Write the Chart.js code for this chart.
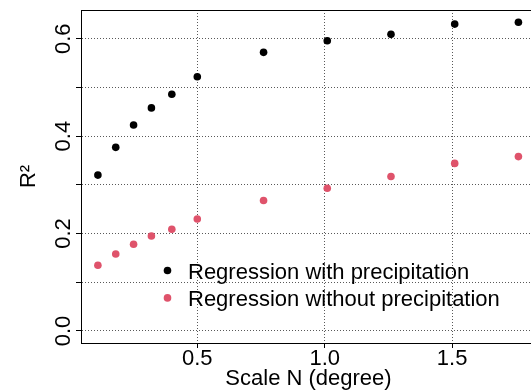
<!DOCTYPE html>
<html>
<head>
<meta charset="utf-8">
<script src="https://cdn.jsdelivr.net/npm/chart.js@4"></script>
<style>
	html, body { margin: 0; padding: 0; overflow: hidden; background: #fff; }
	#chart { display: block; }
</style>
</head>
<body>
<canvas id="chart" width="540" height="391"></canvas>
<script>
// scale N in degrees and the R^2 of each regression
const scaleN = [0.11, 0.18, 0.25, 0.32, 0.40, 0.50, 0.76, 1.01, 1.26, 1.51, 1.76];
const withPrecip = [0.320, 0.377, 0.423, 0.458, 0.486, 0.522, 0.572, 0.596, 0.609, 0.630, 0.634];
const withoutPrecip = [0.135, 0.158, 0.178, 0.195, 0.209, 0.230, 0.268, 0.293, 0.317, 0.344, 0.358];
const seriesNames = ['Regression with precipitation', 'Regression without precipitation'];

const xTicks = [0.5, 1.0, 1.5];
const yTicks = [0.0, 0.1, 0.2, 0.3, 0.4, 0.5, 0.6];
const yLabels = ['0.0', '0.2', '0.4', '0.6'];

const FONT = '"Liberation Sans", Arial, Helvetica, sans-serif';
const RED = '#DF536B';

const toPoints = (ys) => scaleN.map((x, i) => ({x: x, y: ys[i]}));

// frame, rotated y labels, axis titles and the legend
const decorations = {
	id: 'decorations',
	afterDraw(chart) {
		const {ctx, chartArea} = chart;
		const yScale = chart.scales.y;
		ctx.save();
		ctx.strokeStyle = '#000';
		ctx.lineWidth = 1;
		ctx.beginPath();
		ctx.moveTo(chartArea.left, chartArea.top + 0.5);
		ctx.lineTo(chartArea.right, chartArea.top + 0.5);
		ctx.moveTo(chartArea.right - 0.5, chartArea.top);
		ctx.lineTo(chartArea.right - 0.5, chartArea.bottom);
		ctx.stroke();

		ctx.fillStyle = '#000';
		ctx.font = '22px ' + FONT;
		yLabels.forEach((lbl) => {
			const py = yScale.getPixelForValue(parseFloat(lbl));
			ctx.save();
			ctx.translate(70, py);
			ctx.rotate(-Math.PI / 2);
			ctx.textAlign = 'center';
			ctx.textBaseline = 'alphabetic';
			ctx.fillText(lbl, 0, 0);
			ctx.restore();
		});

		// y title
		ctx.save();
		ctx.translate(35, (chartArea.top + chartArea.bottom) / 2);
		ctx.rotate(-Math.PI / 2);
		ctx.textAlign = 'center';
		ctx.textBaseline = 'alphabetic';
		ctx.fillText('R\u00B2', 0, 0);
		ctx.restore();

		// x title
		ctx.textAlign = 'center';
		ctx.textBaseline = 'alphabetic';
		ctx.fillText('Scale N (degree)', (chartArea.left + chartArea.right) / 2, 385);

		// legend
		ctx.textAlign = 'left';
		chart.data.datasets.forEach((ds, i) => {
			const ly = 270.5 + i * 27.4;
			ctx.fillStyle = ds.backgroundColor;
			ctx.beginPath();
			ctx.arc(167.5, ly, 3.8, 0, Math.PI * 2);
			ctx.fill();
			ctx.fillStyle = '#000';
			ctx.fillText(ds.label, 188, ly + 8.5);
		});
		ctx.restore();
	}
};

const gridStyle = {
	color: 'rgba(0, 0, 0, 0.65)',
	lineWidth: 1,
	drawTicks: true,
	tickLength: 5,
	tickColor: '#000',
	tickWidth: 1
};

new Chart(document.getElementById('chart').getContext('2d'), {
	type: 'scatter',
	data: {
		datasets: [{
			label: seriesNames[0],
			data: toPoints(withPrecip),
			backgroundColor: '#000',
			borderColor: '#000',
			pointRadius: 3.8,
			borderWidth: 0
		},
		{
			label: seriesNames[1],
			data: toPoints(withoutPrecip),
			backgroundColor: RED,
			borderColor: RED,
			pointRadius: 3.8,
			borderWidth: 0
		}]
	},
	options: {
		responsive: false,
		devicePixelRatio: 1,
		animation: false,
		layout: {padding: {top: 10, right: 1, left: 0, bottom: 0}},
		plugins: {
			legend: {display: false},
			tooltip: {enabled: false}
		},
		scales: {
			x: {
				type: 'linear',
				min: 0.0437,
				max: 1.829,
				afterBuildTicks: (scale) => { scale.ticks = xTicks.map(v => ({value: v})); },
				afterFit: (scale) => { scale.height = 48; },
				grid: gridStyle,
				border: {display: true, color: '#000', width: 1, dash: [1, 2]},
				ticks: {
					color: '#000',
					font: {family: FONT, size: 22},
					padding: -2,
					maxRotation: 0,
					callback: (v) => v.toFixed(1)
				}
			},
			y: {
				type: 'linear',
				min: -0.0247,
				max: 0.659,
				afterBuildTicks: (scale) => { scale.ticks = yTicks.map(v => ({value: v})); },
				afterFit: (scale) => { scale.width = 81; },
				grid: gridStyle,
				border: {display: true, color: '#000', width: 1, dash: [1, 2]},
				ticks: {display: false}
			}
		}
	},
	plugins: [decorations]
});
</script>
</body>
</html>
